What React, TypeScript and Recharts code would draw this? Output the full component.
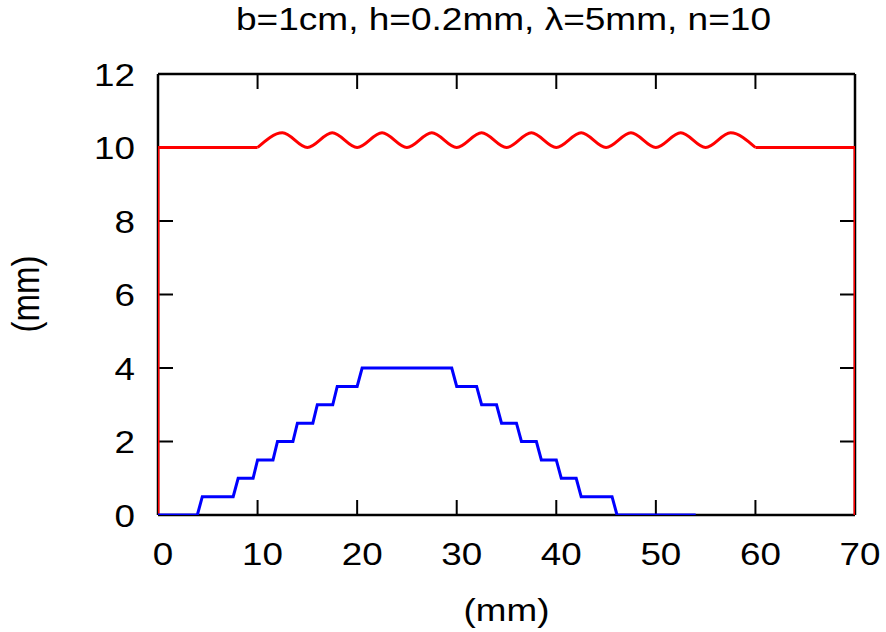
import React from 'react';
import { LineChart, Line, XAxis, YAxis, Label } from 'recharts';

const FONT = '"Liberation Sans", Arial, Helvetica, sans-serif';
const SX = 1.15;

const xTicks = [0, 10, 20, 30, 40, 50, 60, 70];
const yTicks = [0, 2, 4, 6, 8, 10, 12];

const titleText = 'b=1cm, h=0.2mm, \u03bb=5mm, n=10';
const xLabelText = '(mm)';
const yLabelText = '(mm)';

// red boundary: left wall + flat, wavy section (peaks / troughs), flat + right wall
const redLeftX = [0, 0, 10];
const redLeftY = [0, 10, 10];
const redWaveX = [10, 12.5, 15, 17.5, 20, 22.5, 25, 27.5, 30, 32.5, 35, 37.5, 40, 42.5, 45, 47.5, 50, 52.5, 55, 57.5, 60];
const redWaveY = [10, 10.4, 10, 10.4, 10, 10.4, 10, 10.4, 10, 10.4, 10, 10.4, 10, 10.4, 10, 10.4, 10, 10.4, 10, 10.4, 10];
const redRightX = [60, 70, 70];
const redRightY = [10, 10, 0];

// blue staircase
const blueX = [0, 3.95, 4.45, 7.55, 8.05, 9.55, 10, 11.55, 12, 13.55, 14, 15.55, 16, 17.55, 18, 20, 20.5, 29.5, 30, 32, 32.5, 34, 34.5, 36, 36.5, 38, 38.5, 40, 40.5, 42, 42.5, 45.6, 46.1, 54];
const blueY = [0, 0, 0.5, 0.5, 1, 1, 1.5, 1.5, 2, 2, 2.5, 2.5, 3, 3, 3.5, 3.5, 4, 4, 3.5, 3.5, 3, 3, 2.5, 2.5, 2, 2, 1.5, 1.5, 1, 1, 0.5, 0.5, 0, 0];

const zip = (xs: number[], ys: number[]) => xs.map((x, i) => ({ x, y: ys[i] }));

const redLeft = zip(redLeftX, redLeftY);
const redWave = zip(redWaveX, redWaveY);
const redRight = zip(redRightX, redRightY);
const blue = zip(blueX, blueY);

const TL = 15;

const BottomTick = (props: any) => {
  const { x, y, payload } = props;
  return (
    <g>
      <line x1={x} y1={y} x2={x} y2={y - TL} stroke="#000" strokeWidth={2} />
      <text
        transform={`translate(${x + 5},${y + 50}) scale(${SX},1)`}
        textAnchor="middle"
        fontFamily={FONT}
        fontSize={32}
        fill="#000"
      >
        {payload.value}
      </text>
    </g>
  );
};

const TopTick = (props: any) => {
  const { x, y } = props;
  return <line x1={x} y1={y} x2={x} y2={y + TL} stroke="#000" strokeWidth={2} />;
};

const LeftTick = (props: any) => {
  const { x, y, payload } = props;
  return (
    <g>
      <line x1={x} y1={y} x2={x + TL} y2={y} stroke="#000" strokeWidth={2} />
      <text
        transform={`translate(${x - 23},${y + 11.5}) scale(${SX},1)`}
        textAnchor="end"
        fontFamily={FONT}
        fontSize={32}
        fill="#000"
      >
        {payload.value}
      </text>
    </g>
  );
};

const RightTick = (props: any) => {
  const { x, y } = props;
  return <line x1={x} y1={y} x2={x - TL} y2={y} stroke="#000" strokeWidth={2} />;
};

const TitleLabel = (props: any) => {
  const vb = props.viewBox || {};
  const cx = vb.x + vb.width / 2 - 3;
  const by = vb.y + vb.height - 44;
  return (
    <text
      x={cx}
      y={by}
      textAnchor="middle"
      fontFamily={FONT}
      fontSize={32}
      fill="#000"
      textLength={535}
      lengthAdjust="spacingAndGlyphs"
    >
      {titleText}
    </text>
  );
};

const XLabel = (props: any) => {
  const vb = props.viewBox || {};
  const cx = vb.x + vb.width / 2;
  const by = vb.y + 106;
  return (
    <text
      transform={`translate(${cx},${by}) scale(${SX},1)`}
      textAnchor="middle"
      fontFamily={FONT}
      fontSize={32}
      fill="#000"
    >
      {xLabelText}
    </text>
  );
};

const YLabel = () => {
  return (
    <text
      transform={`translate(39,294) scale(${SX},1) rotate(-90)`}
      textAnchor="middle"
      fontFamily={FONT}
      fontSize={33}
      fill="#000"
    >
      {yLabelText}
    </text>
  );
};

const axisLineStyle = { stroke: '#000', strokeWidth: 2.5 };

export default function App() {
  return (
    <div style={{ position: 'absolute', left: 0, top: 0, width: 886, height: 632, background: '#fff' }}>
      {/* frame, ticks and texts */}
      <div style={{ position: 'absolute', left: 0, top: 0 }}>
        <LineChart width={886} height={632} margin={{ top: 64, right: 21, bottom: 57, left: 98 }}>
          <XAxis
            xAxisId="b"
            dataKey="x"
            type="number"
            domain={[0, 70]}
            ticks={xTicks}
            interval={0}
            orientation="bottom"
            height={60}
            tickSize={0}
            tickMargin={0}
            tickLine={false}
            axisLine={axisLineStyle}
            tick={<BottomTick />}
            allowDataOverflow
          >
            <Label content={<XLabel />} />
          </XAxis>
          <XAxis
            xAxisId="t"
            dataKey="x"
            type="number"
            domain={[0, 70]}
            ticks={xTicks}
            interval={0}
            orientation="top"
            height={10}
            tickSize={0}
            tickMargin={0}
            tickLine={false}
            axisLine={axisLineStyle}
            tick={<TopTick />}
            allowDataOverflow
          >
            <Label content={<TitleLabel />} />
          </XAxis>
          <YAxis
            yAxisId="l"
            type="number"
            domain={[0, 12]}
            ticks={yTicks}
            interval={0}
            orientation="left"
            width={60}
            tickSize={0}
            tickMargin={0}
            tickLine={false}
            axisLine={axisLineStyle}
            tick={<LeftTick />}
            allowDataOverflow
          >
            <Label content={<YLabel />} />
          </YAxis>
          <YAxis
            yAxisId="r"
            type="number"
            domain={[0, 12]}
            ticks={yTicks}
            interval={0}
            orientation="right"
            width={10}
            tickSize={0}
            tickMargin={0}
            tickLine={false}
            axisLine={axisLineStyle}
            tick={<RightTick />}
            allowDataOverflow
          />
          <Line xAxisId="b" yAxisId="l" data={[]} dataKey="y" stroke="none" dot={false} isAnimationActive={false} legendType="none" />
        </LineChart>
      </div>
      {/* data series on top of the frame */}
      <div style={{ position: 'absolute', left: 0, top: 0 }}>
        <LineChart width={886} height={632} margin={{ top: 74, right: 31, bottom: 117, left: 158 }}>
          <XAxis dataKey="x" type="number" domain={[0, 70]} ticks={xTicks} hide allowDataOverflow />
          <YAxis type="number" domain={[0, 12]} ticks={yTicks} hide allowDataOverflow />
          <Line data={redLeft} dataKey="y" type="linear" stroke="#ff0000" strokeWidth={3} dot={false} isAnimationActive={false} />
          <Line data={redWave} dataKey="y" type="monotoneX" stroke="#ff0000" strokeWidth={3} dot={false} isAnimationActive={false} />
          <Line data={redRight} dataKey="y" type="linear" stroke="#ff0000" strokeWidth={3} dot={false} isAnimationActive={false} />
          <Line data={blue} dataKey="y" type="linear" stroke="#0000ff" strokeWidth={3} dot={false} isAnimationActive={false} />
        </LineChart>
      </div>
    </div>
  );
}
